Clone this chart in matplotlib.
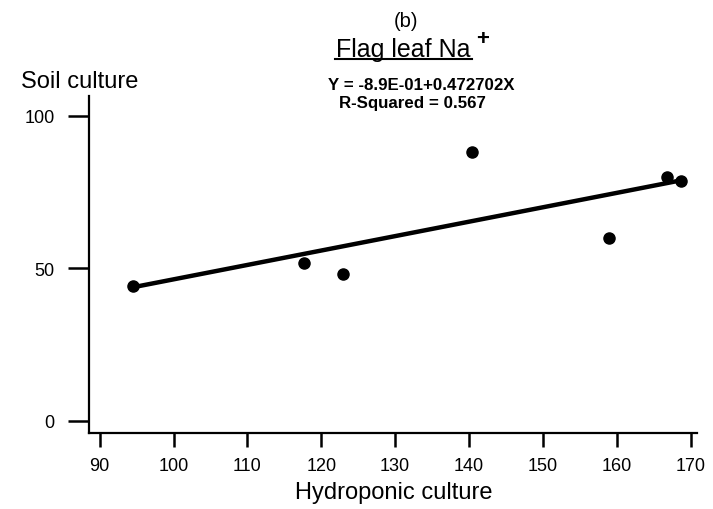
import matplotlib
matplotlib.use("Agg")
import matplotlib.pyplot as plt
import numpy as np

plt.rcParams['font.family'] = ['Liberation Sans', 'DejaVu Sans']

hydroponic = [94.5, 117.7, 122.9, 140.4, 159.0, 166.8, 168.7]
soil = [44.3, 51.7, 48.2, 88.2, 59.9, 79.8, 78.5]
intercept = -0.89
slope = 0.472702
xticks = [90, 100, 110, 120, 130, 140, 150, 160, 170]
yticks = [0, 50, 100]

fig = plt.figure(figsize=(7.13, 5.10), dpi=100)
ax = fig.add_axes([0.1252, 0.1484, 0.8524, 0.6608])

xs = np.array([min(hydroponic), max(hydroponic)])
ax.plot(xs, intercept + slope * xs, color='black', lw=3.2, solid_capstyle='round', zorder=2)
ax.plot(hydroponic, soil, 'o', color='black', ms=8, zorder=3)

ax.set_xlim(88.6, 170.85)
ax.set_ylim(-4.1, 106.4)
ax.set_xticks(xticks)
ax.set_yticks(yticks)
for s in ['top', 'right']:
    ax.spines[s].set_visible(False)
for s in ['left', 'bottom']:
    ax.spines[s].set_linewidth(1.6)
ax.tick_params(axis='y', direction='out', length=15, width=1.8, pad=10, labelsize=13)
ax.tick_params(axis='x', direction='out', length=10, width=1.8, pad=7, labelsize=13)

fig.text(0.030, 0.839, 'Soil culture', fontsize=17, ha='left', va='center')
fig.text(0.5526, 0.033, 'Hydroponic culture', fontsize=17, ha='center', va='center')

fig.text(0.570, 0.957, '(b)', fontsize=14.5, ha='center', va='center')
fig.text(0.566, 0.901, 'Flag leaf Na', fontsize=18, ha='center', va='center')
fig.text(0.677, 0.923, '+', fontsize=16, fontweight='bold', ha='center', va='center')
fig.add_artist(plt.Line2D([0.470, 0.662], [0.882, 0.882], color='black', lw=1.5))
fig.text(0.591, 0.833, 'Y = -8.9E-01+0.472702X', fontsize=12.2, fontweight='bold', ha='center', va='center')
fig.text(0.579, 0.798, 'R-Squared = 0.567', fontsize=12.2, fontweight='bold', ha='center', va='center')

fig.savefig('out.png', dpi=100)
